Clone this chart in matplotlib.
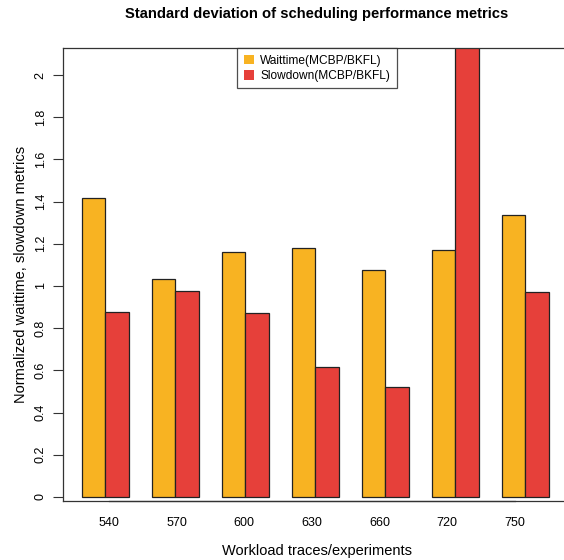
import numpy as np
import matplotlib.pyplot as plt
from matplotlib.patches import Patch

plt.rcParams['font.family'] = ['Liberation Sans', 'DejaVu Sans']

traces = ['540', '570', '600', '630', '660', '720', '750']
waittime = [1.417, 1.033, 1.161, 1.182, 1.076, 1.170, 1.336]
slowdown = [0.877, 0.976, 0.872, 0.616, 0.521, 2.40, 0.972]

col_wait = '#F8B322'
col_slow = '#E6403A'

fig = plt.figure(figsize=(5.64, 5.6), dpi=100)
# plot region runs off the right side of the canvas
ax = fig.add_axes([63 / 564, 1 - 501 / 560, (570 - 63) / 564, (501 - 48) / 560])

n = len(traces)
left = np.arange(n) * 3 + 1.0
ax.bar(left, waittime, width=1, align='edge', color=col_wait,
       edgecolor='#222222', linewidth=0.9)
ax.bar(left + 1, slowdown, width=1, align='edge', color=col_slow,
       edgecolor='#222222', linewidth=0.9)

ax.set_xlim(0.186, 21.92)
ax.set_ylim(-0.019, 2.128)

# x axis ticks, R-style spacing
xt = 2.16 + np.arange(n) * 2.9
ax.set_xticks(xt)
ax.set_xticklabels(traces, fontsize=9)
ax.tick_params(axis='x', length=0, pad=11.5)
ax.plot([xt[0], xt[-1]], [-0.019, -0.019], color='#333333', lw=0.9,
        clip_on=False, zorder=5)

yt = np.arange(0, 2.01, 0.2)
ax.set_yticks(yt)
ax.set_yticklabels(['0'] + ['%g' % v for v in yt[1:]], fontsize=9,
                   rotation=90, va='center')
ax.tick_params(axis='y', length=7.2, width=0.8, pad=4.5, color='#333333')

for s in ['top', 'bottom', 'left']:
    ax.spines[s].set_linewidth(0.9)
    ax.spines[s].set_color('#333333')
ax.spines['right'].set_visible(False)

ax.set_xlabel('Workload traces/experiments', fontsize=10.5, labelpad=11)
ax.set_ylabel('Normalized waittime, slowdown metrics', fontsize=10.5, labelpad=5)
fig.text(317 / 564, 1 - 14 / 560, 'Standard deviation of scheduling performance metrics',
         ha='center', va='center', fontsize=10.6, fontweight='bold')

handles = [Patch(facecolor=col_wait, edgecolor='none', label='Waittime(MCBP/BKFL)'),
           Patch(facecolor=col_slow, edgecolor='none', label='Slowdown(MCBP/BKFL)')]
leg = fig.legend(handles=handles, loc='upper left',
                 bbox_to_anchor=(237 / 564, 1 - 48 / 560), fontsize=8.6,
                 frameon=True, fancybox=False, handlelength=0.9, handleheight=0.9,
                 handletextpad=0.5, labelspacing=0.25, borderpad=0.55,
                 borderaxespad=0)
leg.get_frame().set_edgecolor('#222222')
leg.get_frame().set_linewidth(0.9)

fig.savefig('out.png', dpi=100)
